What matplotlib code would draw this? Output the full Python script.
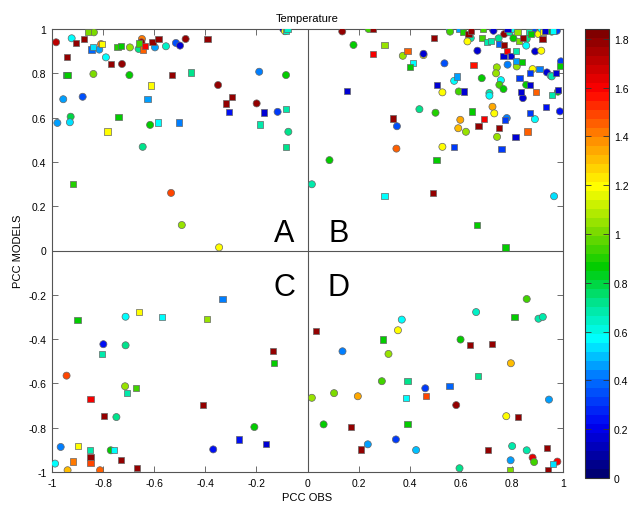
import numpy as np
import matplotlib
matplotlib.use('Agg')
import matplotlib.pyplot as plt
from matplotlib.colors import LinearSegmentedColormap, Normalize

# === Data ===
# circles: obs, model, value
circ_obs = [-0.984, -0.923, -0.836, -0.815, -0.808, -0.789, -0.726, -0.838, -0.697, -0.695,
            -0.661, -0.648, -0.650, -0.597, -0.554, -0.515, -0.499, -0.477, -0.095, -0.088,
            -0.956, -0.880, -0.979, -0.927, -0.930, -0.616, -0.645, -0.350, -0.189, -0.199,
            -0.117, -0.084, -0.075, -0.534, -0.492, -0.346,
            0.136, 0.239, 0.180, 0.373, 0.454, 0.454, 0.536, 0.556, 0.558, 0.639,
            0.626, 0.725, 0.728, 0.748, 0.770, 0.791, 0.801, 0.806, 0.858, 0.885,
            0.904, 0.916, 0.956, 0.976, 0.856, 0.665, 0.891, 0.915, 0.741, 0.783,
            0.819, 0.881, 0.937, 0.952, 0.956, 0.992, 0.738, 0.757, 0.751, 0.767,
            0.856, 0.843, 0.980, 0.682, 0.712, 0.712, 0.574, 0.528, 0.592, 0.988,
            0.438, 0.501, 0.724, 0.731, 0.598, 0.590, 0.620, 0.780, 0.890, 0.742,
            0.350, 0.348, 0.528, 0.086, 0.017, 0.965,
            -0.712, -0.799, -0.712, -0.943, -0.714, -0.748, -0.208, -0.369, -0.966, -0.770,
            -0.988, -0.939, -0.812,
            0.137, 0.369, 0.354, 0.317, 0.291, 0.461, 0.017, 0.104, 0.197, 0.582,
            0.063, 0.236, 0.346, 0.425, 0.595, 0.599, 0.660, 0.858, 0.904, 0.921,
            0.796, 0.945, 0.778, 0.801, 0.858, 0.795, 0.881, 0.887, 0.978]
circ_mod = [0.940, 0.958, 0.985, 0.907, 0.932, 0.872, 0.842, 0.797, 0.792, 0.917,
            0.910, 0.955, 0.940, 0.917, 0.922, 0.937, 0.925, 0.955, 1.000, 0.990,
            0.683, 0.694, 0.576, 0.604, 0.579, 0.567, 0.468, 0.747, 0.807, 0.664,
            0.626, 0.792, 0.536, 0.260, 0.115, 0.014,
            0.989, 1.000, 0.928, 0.879, 0.882, 0.888, 0.845, 1.000, 0.988, 0.959,
            0.944, 1.000, 0.992, 0.958, 0.977, 0.985, 1.000, 0.958, 0.955, 0.988,
            0.977, 1.000, 0.988, 0.992, 0.925, 0.902, 0.899, 0.902, 0.827, 0.839,
            0.831, 0.819, 0.804, 0.789, 0.786, 0.854, 0.800, 0.769, 0.748, 0.729,
            0.748, 0.688, 0.717, 0.778, 0.711, 0.699, 0.766, 0.714, 0.718, 0.628,
            0.638, 0.622, 0.649, 0.619, 0.590, 0.552, 0.536, 0.598, 0.593, 0.513,
            0.561, 0.460, 0.468, 0.408, 0.299, 0.245,
            -0.299, -0.423, -0.428, -0.565, -0.613, -0.752, -0.797, -0.898, -0.887, -0.902,
            -0.962, -0.992, -0.992,
            -0.455, -0.312, -0.360, -0.467, -0.590, -0.622, -0.665, -0.644, -0.658, -0.698,
            -0.785, -0.875, -0.853, -0.901, -0.983, -0.402, -0.278, -0.219, -0.308, -0.300,
            -0.509, -0.673, -0.748, -0.883, -0.902, -0.947, -0.935, -0.955, -0.953]
circ_val = [1.70, 0.57, 1.00, 0.45, 1.40, 0.57, 1.80, 1.00, 0.85, 1.05,
            0.70, 1.40, 1.80, 0.45, 0.65, 0.35, 0.15, 1.80, 0.15, 1.20,
            0.45, 0.35, 0.47, 0.80, 0.52, 0.85, 0.72, 1.80, 0.42, 1.80,
            0.30, 0.85, 0.70, 1.50, 1.05, 1.20,
            1.80, 0.95, 0.85, 1.05, 1.20, 0.15, 0.35, 0.57, 0.95, 0.68,
            1.20, 0.30, 0.15, 0.70, 1.80, 0.68, 0.58, 0.85, 0.70, 0.35,
            1.20, 0.57, 0.88, 0.30, 0.57, 0.15, 0.15, 1.20, 1.05, 0.42,
            1.05, 1.20, 0.15, 0.57, 0.68, 0.30, 1.05, 0.57, 0.95, 0.88,
            0.85, 0.15, 0.85, 0.85, 0.68, 0.57, 0.57, 1.20, 0.95, 0.25,
            0.72, 0.90, 1.35, 1.20, 1.35, 1.30, 1.05, 0.42, 0.57, 1.05,
            0.35, 1.45, 1.20, 0.85, 0.68, 0.55,
            0.57, 0.25, 0.72, 1.50, 1.05, 0.72, 0.85, 0.25, 0.42, 0.85,
            0.57, 1.30, 1.45,
            0.42, 0.57, 1.20, 1.05, 0.95, 0.30, 1.05, 1.00, 1.35, 1.80,
            0.88, 0.45, 0.30, 0.50, 0.72, 0.85, 0.65, 0.95, 0.68, 0.68,
            1.30, 0.45, 1.20, 0.68, 0.68, 0.45, 1.65, 0.95, 1.60]

# squares: obs, model, value
sq_obs = [-0.907, -0.875, -0.858, -0.845, -0.838, -0.803, -0.940, -0.769, -0.943, -0.939,
          -0.744, -0.729, -0.661, -0.643, -0.635, -0.607, -0.583, -0.391, -0.084, -0.078,
          -0.530, -0.455, -0.613, -0.626, -0.740, -0.783, -0.584, -0.502, -0.319, -0.297,
          -0.306, -0.170, -0.085, -0.186, -0.085, -0.917,
          0.256, 0.301, 0.256, 0.496, 0.391, 0.412, 0.401, 0.595, 0.608, 0.630,
          0.639, 0.686, 0.683, 0.702, 0.718, 0.751, 0.770, 0.783, 0.822, 0.827,
          0.843, 0.866, 0.875, 0.921, 0.930, 0.960, 0.920, 0.767, 0.780, 0.796,
          0.817, 0.650, 0.817, 0.840, 0.908, 0.870, 0.973, 0.989, 0.830, 0.870,
          0.835, 0.895, 0.980, 0.958, 0.584, 0.506, 0.611, 0.154, 0.932, 0.645,
          0.691, 0.669, 0.750, 0.772, 0.870, 0.861, 0.814, 0.334, 0.574, 0.759,
          0.505, 0.301, 0.491, 0.663, 0.775,
          -0.333, -0.900, -0.661, -0.571, -0.393, -0.804, -0.136, -0.131, -0.671, -0.706,
          -0.849, -0.410, -0.796, -0.267, -0.162, -0.897, -0.851, -0.756, -0.849, -0.849,
          -0.731, -0.917, -0.667,
          0.034, 0.295, 0.391, 0.556, 0.464, 0.386, 0.171, 0.391, 0.210, 0.637,
          0.723, 0.810, 0.667, 0.823, 0.708, 0.937, 0.960, 0.793, 0.941]
sq_mod = [0.937, 0.955, 0.985, 0.907, 0.917, 0.932, 0.872, 0.842, 0.794, 0.794,
          0.917, 0.922, 0.935, 0.907, 0.925, 0.943, 0.955, 0.955, 0.992, 1.000,
          0.794, 0.804, 0.745, 0.683, 0.601, 0.537, 0.578, 0.578, 0.664, 0.694,
          0.626, 0.623, 0.638, 0.569, 0.468, 0.299,
          1.000, 0.928, 0.888, 0.959, 0.900, 0.846, 0.827, 1.000, 0.988, 0.977,
          0.992, 1.000, 0.958, 0.943, 0.947, 0.932, 0.928, 1.000, 0.988, 0.947,
          0.958, 0.988, 0.977, 0.988, 0.992, 0.992, 0.955, 0.879, 0.899, 0.879,
          0.899, 0.839, 0.854, 0.852, 0.819, 0.801, 0.800, 0.834, 0.778, 0.748,
          0.714, 0.714, 0.726, 0.702, 0.786, 0.748, 0.718, 0.720, 0.649, 0.628,
          0.593, 0.561, 0.554, 0.589, 0.619, 0.537, 0.512, 0.596, 0.468, 0.460,
          0.408, 0.245, 0.261, 0.115, 0.014,
          -0.218, -0.314, -0.278, -0.299, -0.308, -0.467, -0.453, -0.508, -0.622, -0.644,
          -0.671, -0.698, -0.748, -0.853, -0.875, -0.883, -0.902, -0.902, -0.934, -0.958,
          -0.947, -0.953, -0.983,
          -0.362, -0.402, -0.590, -0.610, -0.658, -0.665, -0.797, -0.785, -0.898, -0.428,
          -0.422, -0.300, -0.565, -0.752, -0.902, -0.890, -0.965, -0.991, -0.992]
sq_val = [1.80, 1.80, 1.00, 0.40, 0.55, 1.20, 1.80, 1.80, 0.75, 0.85,
          0.90, 0.85, 0.95, 1.45, 1.60, 1.80, 1.80, 1.80, 0.65, 0.65,
          1.80, 0.70, 1.20, 0.45, 0.85, 1.20, 0.57, 0.42, 1.80, 1.80,
          0.25, 0.15, 0.68, 0.68, 0.72, 0.90,
          1.80, 1.05, 1.60, 1.80, 1.45, 0.57, 0.88, 0.45, 0.90, 1.80,
          1.80, 0.95, 0.95, 0.68, 0.68, 0.40, 1.80, 0.15, 1.05, 1.00,
          1.80, 0.68, 0.85, 1.20, 0.15, 0.57, 1.80, 0.15, 1.60, 0.15,
          0.68, 1.55, 0.45, 0.85, 0.42, 0.30, 0.15, 0.88, 0.30, 0.15,
          0.15, 1.45, 0.15, 0.68, 0.45, 0.15, 0.15, 0.15, 0.25, 0.85,
          1.60, 1.80, 1.80, 0.30, 0.30, 1.45, 0.15, 1.80, 0.30, 0.30,
          0.88, 0.57, 1.80, 0.85, 0.85,
          0.42, 0.85, 1.20, 0.57, 1.05, 0.68, 1.80, 0.85, 0.95, 0.68,
          1.60, 1.80, 1.80, 0.25, 0.15, 1.20, 0.68, 0.57, 1.80, 1.50,
          1.80, 1.40, 1.80,
          1.80, 0.85, 0.72, 0.40, 1.50, 0.57, 1.80, 0.85, 1.80, 1.80,
          1.80, 0.88, 0.72, 1.80, 1.80, 1.80, 0.55, 1.00, 1.80]

ticks = [-1, -0.8, -0.6, -0.4, -0.2, 0, 0.2, 0.4, 0.6, 0.8, 1]
cbar_ticks = [0, 0.2, 0.4, 0.6, 0.8, 1, 1.2, 1.4, 1.6, 1.8]
vmax = 1.84

# === Colormap (navy -> blue -> cyan -> green -> yellow -> red -> dark red) ===
anchors = [(0.0, (0.0, 0.0, 0.45)), (0.2, (0.0, 0.0, 0.95)), (0.4, (0.0, 0.45, 1.0)),
           (0.56, (0.0, 1.0, 1.0)), (0.7, (0.0, 0.9, 0.6)), (0.86, (0.0, 0.8, 0.0)),
           (1.0, (0.45, 0.85, 0.0)), (1.2, (1.0, 1.0, 0.0)), (1.4, (1.0, 0.55, 0.0)),
           (1.6, (1.0, 0.0, 0.0)), (vmax, (0.5, 0.0, 0.0))]
cmap = LinearSegmentedColormap.from_list('obs', [(v / vmax, c) for v, c in anchors], N=50)
norm = Normalize(vmin=0, vmax=vmax)

plt.rcParams['font.family'] = ['Liberation Sans', 'DejaVu Sans']
plt.rcParams['axes.unicode_minus'] = False
plt.rcParams['font.size'] = 7.5

fig = plt.figure(figsize=(6.32, 5.06), dpi=100)
ax = fig.add_axes([52 / 632, 33 / 506, 511 / 632, 443 / 506])

ax.axhline(0, color='#555555', lw=0.8, zorder=1)
ax.axvline(0, color='#555555', lw=0.8, zorder=1)

edge = '#666666'
ax.scatter(circ_obs, circ_mod, c=circ_val, cmap=cmap, norm=norm, marker='o', s=26,
           edgecolors=edge, linewidths=0.5, zorder=3)
sc = ax.scatter(sq_obs, sq_mod, c=sq_val, cmap=cmap, norm=norm, marker='s', s=20,
                edgecolors=edge, linewidths=0.5, zorder=3)

ax.set_xlim(-1, 1)
ax.set_ylim(-1, 1)
ax.set_xticks(ticks)
ax.set_yticks(ticks)
ax.set_xticklabels([f'{t:g}' for t in ticks])
ax.set_yticklabels([f'{t:g}' for t in ticks])
ax.tick_params(direction='in', length=4, width=0.6, color='#555555',
               top=True, right=True, pad=4)
for s in ax.spines.values():
    s.set_color('#555555')
    s.set_linewidth(0.8)

ax.set_title('Temperature', fontsize=8, pad=6)
ax.set_xlabel('PCC OBS', fontsize=8, labelpad=3)
ax.set_ylabel('PCC MODELS', fontsize=8, labelpad=4)

for lbl, x, y, va in [('A', -0.09, 0.01, 'bottom'), ('B', 0.12, 0.01, 'bottom'),
                      ('C', -0.09, -0.095, 'top'), ('D', 0.12, -0.095, 'top')]:
    ax.text(x, y, lbl, fontsize=22, ha='center', va=va, zorder=4)

cax = fig.add_axes([585 / 632, 27 / 506, 24 / 632, 449 / 506])
cb = fig.colorbar(sc, cax=cax, ticks=cbar_ticks)
cb.ax.set_yticklabels([f'{t:g}' for t in cbar_ticks])
cb.ax.tick_params(direction='in', length=4, width=0.6, color='#333333', left=True)
cb.outline.set_edgecolor('#333333')
cb.outline.set_linewidth(0.8)

fig.savefig('out.png', dpi=100)
